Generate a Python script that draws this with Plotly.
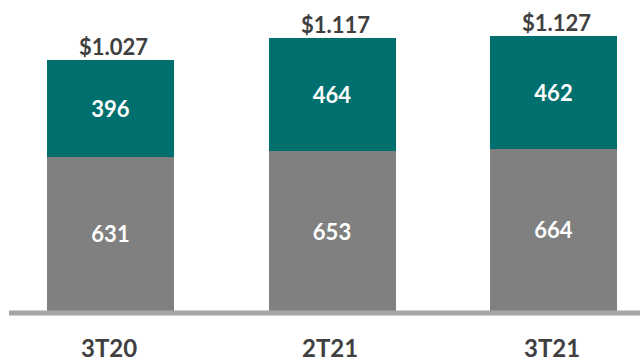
import plotly.graph_objects as go

# Quarterly figures (in millions)
periods = ["3T20", "2T21", "3T21"]
base_values = [631, 653, 664]      # gray lower segment
top_values = [396, 464, 462]       # teal upper segment
totals = [1027, 1117, 1127]        # stated totals above each bar

TEAL = "#00706F"
GRAY = "#808080"
AXIS_GRAY = "#A6A6A6"
TEXT_DARK = "#404040"
FONT = "Lato"

px_per_unit = 0.245        # vertical scale
plot_h = 311.5             # plot area height in px
spacing = 221.5            # px between category centres
first_center = 110.5       # px of first bar centre
x0 = -first_center / spacing
x1 = x0 + 640 / spacing


def fmt_total(v):
    s = f"{v:,}".replace(",", ".")
    return f"${s}"


fig = go.Figure()
fig.add_trace(go.Bar(
    x=periods, y=base_values, marker=dict(color=GRAY, line=dict(width=0)),
    text=[str(v) for v in base_values], textposition="inside",
    insidetextanchor="middle",
    textfont=dict(family=FONT, size=22, color="white", weight="bold"),
    hoverinfo="skip",
))
fig.add_trace(go.Bar(
    x=periods, y=top_values, marker=dict(color=TEAL, line=dict(width=0)),
    text=[str(v) for v in top_values], textposition="inside",
    insidetextanchor="middle",
    textfont=dict(family=FONT, size=22, color="white", weight="bold"),
    hoverinfo="skip",
))

# Totals above the bars
for p, t in zip(periods, totals):
    fig.add_annotation(
        x=p, y=t, xref="x", yref="y", text=fmt_total(t), showarrow=False,
        yanchor="middle", yshift=13, xshift=3,
        font=dict(family=FONT, size=22, color=TEXT_DARK, weight="bold"),
    )

# Category labels under the baseline
for p in periods:
    fig.add_annotation(
        x=p, y=0, xref="x", yref="paper", text=p, showarrow=False,
        yanchor="middle", yshift=-36.5, xshift=-2,
        font=dict(family=FONT, size=24, color=TEXT_DARK, weight="bold"),
    )

# Baseline
fig.add_shape(
    type="line", xref="x", yref="paper",
    x0=x0 + 9 / spacing, x1=x1, y0=-2 / plot_h, y1=-2 / plot_h,
    line=dict(color=AXIS_GRAY, width=5), layer="above",
)

fig.update_layout(
    barmode="stack", bargap=1 - 127 / spacing,
    width=640, height=362, autosize=False,
    margin=dict(l=0, r=0, t=0, b=362 - plot_h),
    paper_bgcolor="white", plot_bgcolor="white",
    showlegend=False,
    xaxis=dict(range=[x0, x1], showticklabels=False, showgrid=False,
               zeroline=False, showline=False, ticks=""),
    yaxis=dict(range=[0, plot_h / px_per_unit], showticklabels=False,
               showgrid=False, zeroline=False, showline=False, ticks=""),
)

fig.write_html("out.html")
